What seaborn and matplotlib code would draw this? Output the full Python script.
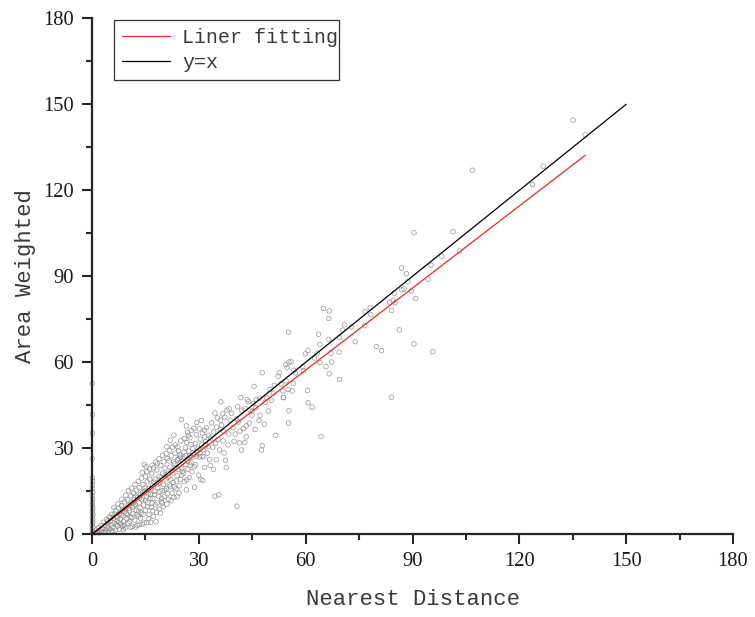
import matplotlib.pyplot as plt
import numpy as np
import pandas as pd
import seaborn as sns

# values (nearest distance, area weighted)
far_points = [
    (135.1, 144.5), (138.5, 139.3), (126.7, 128.4), (123.7, 122.0), (106.8, 127.0), (90.4, 105.2),
    (101.4, 105.6), (103.2, 98.8), (98.2, 97.0), (95.2, 93.8), (94.4, 89.0), (86.9, 92.9),
    (88.3, 90.9), (88.7, 88.1), (84.9, 84.1), (87.0, 85.3), (87.6, 85.6), (89.7, 84.9),
    (90.9, 82.2), (83.6, 80.9), (84.6, 81.6), (85.1, 80.8), (84.1, 78.1), (86.3, 71.3),
    (90.4, 66.4), (95.7, 63.7), (79.9, 65.5), (81.3, 64.1), (84.1, 47.8), (78.1, 79.0),
    (76.7, 77.7), (78.3, 76.6), (76.6, 72.8), (73.9, 67.2), (72.9, 72.3), (70.9, 73.1),
    (70.4, 71.2), (69.5, 68.7), (66.5, 68.0), (65.0, 78.8), (66.6, 77.9), (66.5, 75.3),
    (63.6, 69.8), (64.0, 66.2), (69.4, 63.6), (67.1, 63.2), (67.3, 60.1), (65.7, 58.5),
    (66.6, 56.0), (69.5, 54.0), (63.2, 63.1), (62.5, 61.5), (64.0, 59.9), (60.7, 64.2),
    (59.9, 62.9), (60.5, 50.2), (60.7, 45.9), (61.8, 44.4), (64.3, 34.1), (55.2, 70.5),
    (55.9, 60.2), (54.4, 59.2), (55.3, 60.1), (54.8, 58.1), (56.7, 57.2), (57.1, 56.3),
    (59.2, 58.4), (59.4, 57.0), (56.5, 52.6), (53.7, 47.7), (55.3, 43.1), (55.2, 38.8),
    (56.2, 50.0), (55.1, 50.5), (54.5, 53.5), (53.6, 50.0),
]
mid_points = [
    (25.1, 40.0), (26.5, 37.8), (29.4, 39.0), (30.7, 39.7), (21.0, 30.5), (26.8, 35.6),
    (27.1, 34.5), (27.5, 33.7), (29.3, 34.8), (31.6, 36.3), (34.5, 42.3), (36.7, 42.0),
    (36.2, 46.2), (37.9, 43.3), (38.5, 43.8), (41.8, 47.7), (47.8, 56.4), (45.5, 51.6),
    (52.6, 56.4), (51.2, 52.0), (50.0, 50.5), (53.8, 47.7), (51.6, 34.5), (47.8, 30.9),
    (47.6, 29.4), (49.5, 43.0), (47.2, 41.5), (46.9, 39.7), (43.3, 37.8), (43.3, 34.0),
    (42.0, 29.4), (41.4, 31.9), (42.9, 32.0), (37.5, 25.8), (37.7, 23.3), (34.1, 22.6),
    (31.6, 23.3), (30.5, 19.1), (31.1, 18.8), (28.8, 16.4), (26.5, 15.5), (24.4, 14.4),
    (25.9, 18.4), (34.5, 13.3), (35.6, 13.8), (40.7, 9.8), (24.1, 30.5), (24.3, 29.1),
    (24.7, 27.6), (24.4, 26.4), (27.8, 31.3), (28.3, 29.9), (31.7, 34.0), (32.7, 34.5),
    (33.3, 33.6), (35.0, 37.4), (36.1, 39.8), (38.8, 39.8), (40.6, 40.3), (42.0, 43.3),
    (43.0, 43.8), (44.4, 43.3), (45.3, 45.6), (46.1, 47.0), (42.5, 36.9), (41.1, 39.2),
    (44.9, 41.5), (44.0, 46.3), (47.0, 47.4), (48.6, 46.0), (50.4, 46.8), (52.3, 55.1),
    (53.1, 52.4), (46.0, 44.2), (39.6, 37.2), (37.0, 35.8), (35.4, 33.1), (33.9, 30.4),
    (32.4, 28.3), (30.2, 26.9), (29.1, 24.2), (28.1, 21.8), (26.9, 22.7), (25.2, 20.6),
    (33.0, 26.1), (35.8, 29.4), (38.2, 31.2), (40.2, 35.0), (36.4, 38.1), (34.2, 35.7),
    (32.0, 31.2), (30.4, 33.2), (29.0, 31.7), (27.4, 27.5), (26.2, 30.2), (25.8, 28.6),
    (33.6, 38.9), (35.2, 40.6), (37.3, 40.9), (39.2, 42.2), (40.9, 44.5), (43.6, 47.0),
    (45.0, 43.0), (38.4, 35.0), (36.8, 32.6), (39.9, 32.4), (41.6, 36.0), (44.2, 38.8),
    (45.8, 36.6), (48.4, 38.4), (49.1, 47.6), (50.9, 49.2), (37.1, 28.4), (34.9, 26.0),
    (33.2, 24.0), (32.2, 37.2), (31.0, 35.3), (30.1, 36.8), (28.6, 37.0), (27.9, 36.2),
    (29.9, 20.6), (27.3, 19.8), (28.9, 27.9), (31.4, 27.0), (34.7, 31.7), (36.0, 36.6),
]
dense_points = [
    (0.8, 0.5), (1.2, 1.5), (1.6, 0.7), (1.9, 2.4), (2.2, 1.3), (2.5, 3.1), (2.7, 0.9), (3.0, 2.0),
    (3.2, 4.2), (3.4, 0.6), (3.6, 3.0), (3.9, 1.6), (4.1, 5.2), (4.3, 2.6), (4.5, 3.9), (4.6, 0.9),
    (4.8, 6.1), (5.0, 1.9), (5.2, 4.6), (5.4, 3.2), (5.6, 7.0), (5.8, 2.4), (6.0, 5.5), (6.2, 3.9),
    (6.5, 1.4), (6.6, 8.2), (6.8, 6.3), (7.0, 4.6), (7.2, 2.9), (7.4, 9.1), (7.7, 1.7), (7.8, 7.2),
    (8.0, 5.3), (8.1, 3.6), (8.3, 10.0), (8.5, 8.4), (8.7, 6.4), (8.9, 4.4), (9.1, 11.3), (9.3, 2.2),
    (9.4, 9.0), (9.6, 7.3), (9.8, 5.4), (10.0, 12.0), (10.1, 3.9), (10.3, 10.1), (10.5, 8.2), (10.7, 6.2),
    (10.9, 13.4), (11.0, 11.2), (11.3, 2.8), (11.4, 9.4), (11.5, 7.1), (11.7, 14.3), (11.9, 12.0), (12.0, 4.9),
    (12.2, 10.3), (12.4, 8.4), (12.5, 15.4), (12.7, 3.1), (12.8, 12.9), (13.0, 6.3), (13.2, 11.0), (13.3, 16.2),
    (13.5, 9.2), (13.7, 14.0), (13.8, 7.4), (14.0, 12.1), (14.1, 3.5), (14.3, 17.3), (14.5, 10.2), (14.7, 4.0),
    (14.7, 24.3), (14.8, 15.1), (15.0, 20.2), (15.2, 23.6), (14.1, 21.5), (15.0, 8.4), (15.3, 13.1), (15.5, 18.3),
    (15.7, 11.2), (15.9, 16.0), (16.0, 6.9), (16.2, 19.2), (16.5, 4.2), (16.4, 14.0), (16.6, 9.4), (16.8, 21.1),
    (17.0, 17.1), (17.1, 12.4), (17.3, 23.2), (17.5, 15.0), (17.7, 19.2), (17.8, 10.3), (18.0, 4.4), (18.1, 7.7),
    (18.2, 22.4), (18.4, 24.7), (18.5, 16.4), (18.7, 13.3), (18.9, 20.2), (19.2, 7.4), (19.1, 18.0), (19.3, 24.0),
    (19.5, 11.4), (19.7, 15.2), (19.9, 21.3), (20.2, 25.3), (20.1, 17.4), (20.3, 13.2), (20.5, 23.1), (20.7, 19.3),
    (20.9, 15.8), (21.1, 26.4), (21.3, 21.2), (21.6, 25.6), (21.5, 12.2), (21.7, 17.3), (21.9, 23.4), (22.1, 19.2),
    (22.3, 27.4), (22.5, 14.4), (22.7, 21.4), (22.9, 25.3), (23.1, 16.5), (23.3, 28.3), (23.5, 23.2), (23.7, 18.6),
    (23.9, 20.4), (24.0, 26.0), (24.2, 22.6), (24.5, 16.9), (24.6, 24.4), (24.9, 19.2), (25.2, 23.0), (25.5, 25.7),
    (25.7, 21.3), (26.0, 26.6), (26.3, 24.3), (26.6, 19.0), (26.9, 25.5), (27.2, 29.0), (27.6, 24.1), (28.0, 26.9),
    (28.4, 28.3), (28.7, 23.6), (29.3, 27.2), (29.8, 30.0), (30.3, 28.4), (30.8, 31.2), (31.2, 29.4), (31.9, 32.3),
    (2.0, 0.5), (3.8, 1.0), (5.5, 1.2), (6.9, 3.5), (7.5, 4.1), (8.6, 2.7), (9.0, 3.2), (9.9, 6.8),
    (10.6, 4.5), (11.2, 5.8), (11.8, 9.9), (12.6, 6.9), (13.1, 8.0), (13.6, 5.6), (14.4, 7.0), (15.1, 11.9),
    (15.6, 9.6), (16.3, 12.5), (16.9, 10.9), (17.6, 13.9), (18.3, 11.0), (19.0, 14.8), (19.6, 12.6), (20.4, 15.4),
    (21.2, 14.2), (22.0, 16.8), (22.8, 18.1), (23.6, 15.9), (9.2, 7.9), (8.2, 6.6), (7.1, 5.8), (6.3, 7.1),
    (5.3, 5.9), (4.4, 4.6), (10.4, 9.0), (11.6, 11.0), (12.3, 13.4), (13.4, 12.6), (14.2, 14.6), (14.9, 16.3),
    (15.8, 14.1), (16.7, 15.9), (17.4, 18.2), (18.6, 17.6), (19.4, 19.6), (20.6, 20.8), (21.4, 19.9), (22.4, 22.1),
    (23.2, 24.6), (24.8, 26.9), (25.4, 22.0), (26.4, 27.4), (27.8, 25.0), (29.5, 28.9), (30.9, 27.2), (32.6, 30.5),
    # upper edge of the cloud
    (6.1, 9.4), (7.3, 10.6), (8.4, 12.2), (9.5, 13.6), (10.2, 15.2), (11.1, 16.1), (12.1, 17.4), (13.0, 18.5),
    (13.9, 19.6), (15.4, 21.9), (16.1, 22.8), (16.9, 24.1), (17.9, 25.2), (18.8, 26.3), (19.8, 27.6), (20.8, 28.2),
    (21.8, 29.3), (22.6, 30.4), (23.4, 31.2), (24.9, 32.6), (25.9, 33.4), (23.0, 34.6), (26.6, 32.0), (22.0, 32.8),
    # lower edge of the cloud
    (5.9, 0.8), (8.8, 1.6), (10.8, 2.4), (12.2, 2.5), (13.3, 3.4), (15.4, 4.1), (15.9, 5.4), (17.2, 6.2),
    (18.9, 8.8), (20.0, 9.6), (21.0, 10.5), (22.2, 11.7), (23.0, 12.9), (23.9, 13.1), (19.7, 10.9), (17.0, 8.2),
]
axis_points = [
    (0.2, 0.8), (0.1, 1.6), (0.3, 2.5), (0.1, 3.3), (0.2, 4.1), (0.2, 5.0), (0.1, 5.9), (0.3, 6.8),
    (0.1, 7.6), (0.2, 8.5), (0.2, 9.4), (0.1, 10.3), (0.1, 11.2), (0.2, 12.2), (0.1, 13.4), (0.2, 14.6),
    (0.1, 15.9), (0.1, 17.2), (0.2, 18.4), (0.1, 19.7), (0.1, 26.4), (0.1, 35.2), (0.1, 41.8), (0.1, 52.6),
]
fit_x = [0, 138.5]
fit_y = [0, 132.2]
ref_x = [0, 150]
ref_y = [0, 150]
major_ticks = [0, 30, 60, 90, 120, 150, 180]
minor_ticks = [15, 45, 75, 105, 135, 165]

df = pd.DataFrame(far_points + mid_points + dense_points + axis_points, columns=['nearest', 'weighted'])

sns.set_style('ticks')
plt.rcParams['font.family'] = ['Liberation Serif', 'DejaVu Serif']
label_font = 'Liberation Mono'
text_color = '#3a3a3a'

fig, ax = plt.subplots(figsize=(7.55, 6.17), dpi=100)
fig.subplots_adjust(left=92 / 755, right=733 / 755, top=1 - 18.3 / 617, bottom=1 - 534.3 / 617)

sns.scatterplot(data=df, x='nearest', y='weighted', ax=ax, s=11, marker='o',
                facecolor='none', edgecolor='#8c8c8c', linewidth=0.45, clip_on=False, legend=False)
sns.lineplot(x=fit_x, y=fit_y, ax=ax, color='#ee2a2a', linewidth=0.9, label='Liner fitting', zorder=4)
sns.lineplot(x=ref_x, y=ref_y, ax=ax, color='black', linewidth=0.9, label='y=x', zorder=4)

ax.set_xlim(0, 180)
ax.set_ylim(0, 180)
for axis in (ax.xaxis, ax.yaxis):
    axis.set_ticks(major_ticks)
    axis.set_ticks(minor_ticks, minor=True)
ax.tick_params(which='major', length=7, width=1.5, labelsize=14.8, pad=6, labelcolor='#1a1a1a')
ax.tick_params(which='minor', length=4, width=1.5)
sns.despine(ax=ax)
for side in ('left', 'bottom'):
    ax.spines[side].set_linewidth(1.6)

ax.set_xlabel('Nearest Distance', fontsize=16, family=label_font, color=text_color, labelpad=13)
ax.set_ylabel('Area Weighted', fontsize=16, family=label_font, color=text_color, labelpad=5)

leg = ax.legend(loc='upper left', bbox_to_anchor=(114 / 755, 1 - 20 / 617, 225 / 755, 0),
                bbox_transform=fig.transFigure, mode='expand', borderaxespad=0, fancybox=False,
                framealpha=1, edgecolor='#333333', prop={'family': label_font, 'size': 14.4},
                handlelength=2.4, handletextpad=0.6, labelspacing=0.3, borderpad=0.4)
leg.get_frame().set_linewidth(0.9)
for txt in leg.get_texts():
    txt.set_color(text_color)

fig.savefig('out.png', dpi=100)
plt.close(fig)
